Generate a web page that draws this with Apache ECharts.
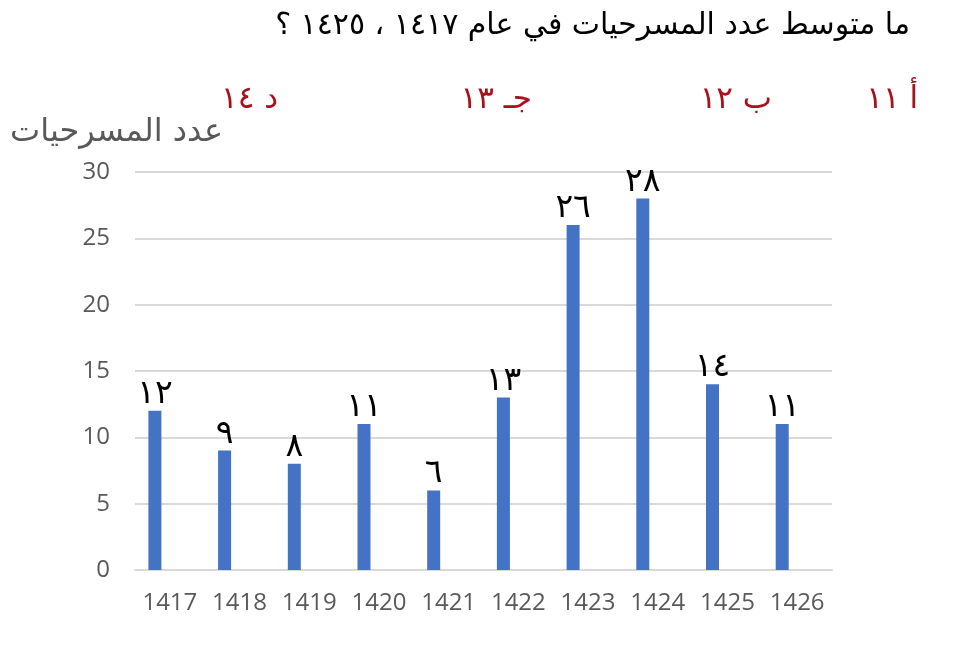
<!DOCTYPE html>
<html>
<head>
<meta charset="utf-8">
<script src="https://cdn.jsdelivr.net/npm/echarts@6/dist/echarts.min.js"></script>
<style>
  html, body { margin: 0; padding: 0; background: #fff; }
  #chart { width: 954px; height: 645px; }
</style>
</head>
<body>
<div id="chart"></div>
<script>
// data
var years = ['1417', '1418', '1419', '1420', '1421', '1422', '1423', '1424', '1425', '1426'];
var plays = [12, 9, 8, 11, 6, 13, 26, 28, 14, 11];
var playLabels = ['١٢', '٩', '٨', '١١', '٦', '١٣', '٢٦', '٢٨', '١٤', '١١'];
var questionText = 'ما متوسط عدد المسرحيات في عام ١٤١٧ ، ١٤٢٥ ؟';
var yAxisTitle = 'عدد المسرحيات';
var answers = ['أ ١١', 'ب ١٢', 'جـ ١٣', 'د ١٤'];
var answerX = [918, 772, 532, 278];

var myChart = echarts.init(document.getElementById('chart'));

var answerTexts = answers.map(function (a, i) {
  return {
    type: 'text',
    right: 954 - answerX[i],
    top: 84,
    style: {
      text: a,
      fill: '#A8111B',
      font: '31px "DejaVu Sans"',
      textAlign: 'right'
    }
  };
});

myChart.setOption({
  animation: false,
  graphic: [
    {
      type: 'text',
      right: 44,
      top: 11,
      style: {
        text: questionText,
        fill: '#000',
        font: '30px "DejaVu Sans"'
      }
    },
    {
      type: 'text',
      left: 10,
      top: 117,
      style: {
        text: yAxisTitle,
        fill: '#595959',
        font: '32px "DejaVu Sans"'
      }
    }
  ].concat(answerTexts),
  grid: {
    left: 135,
    right: 122,
    top: 172,
    bottom: 75
  },
  xAxis: {
    type: 'category',
    data: years,
    axisLine: { show: true, lineStyle: { color: '#D9D9D9', width: 2 } },
    axisTick: { show: false },
    axisLabel: {
      interval: 0,
      color: '#595959',
      fontSize: 24,
      fontFamily: 'Open Sans',
      margin: 21
    }
  },
  yAxis: {
    type: 'value',
    min: 0,
    max: 30,
    interval: 5,
    axisLine: { show: false },
    axisTick: { show: false },
    splitLine: { lineStyle: { color: '#D9D9D9', width: 2 } },
    axisLabel: {
      color: '#595959',
      fontSize: 24,
      fontFamily: 'Open Sans',
      margin: 25
    }
  },
  series: [
    {
      type: 'bar',
      data: plays,
      barWidth: 13,
      barGap: '130%',
      itemStyle: { color: '#4472C4' },
      label: {
        show: true,
        position: 'top',
        distance: 0,
        color: '#000',
        fontSize: 33,
        fontFamily: 'DejaVu Sans',
        formatter: function (p) { return playLabels[p.dataIndex]; }
      }
    },
    {
      // empty second series, keeps the bars left of the category centre
      type: 'bar',
      data: years.map(function () { return '-'; }),
      barWidth: 13
    }
  ]
});
</script>
</body>
</html>
